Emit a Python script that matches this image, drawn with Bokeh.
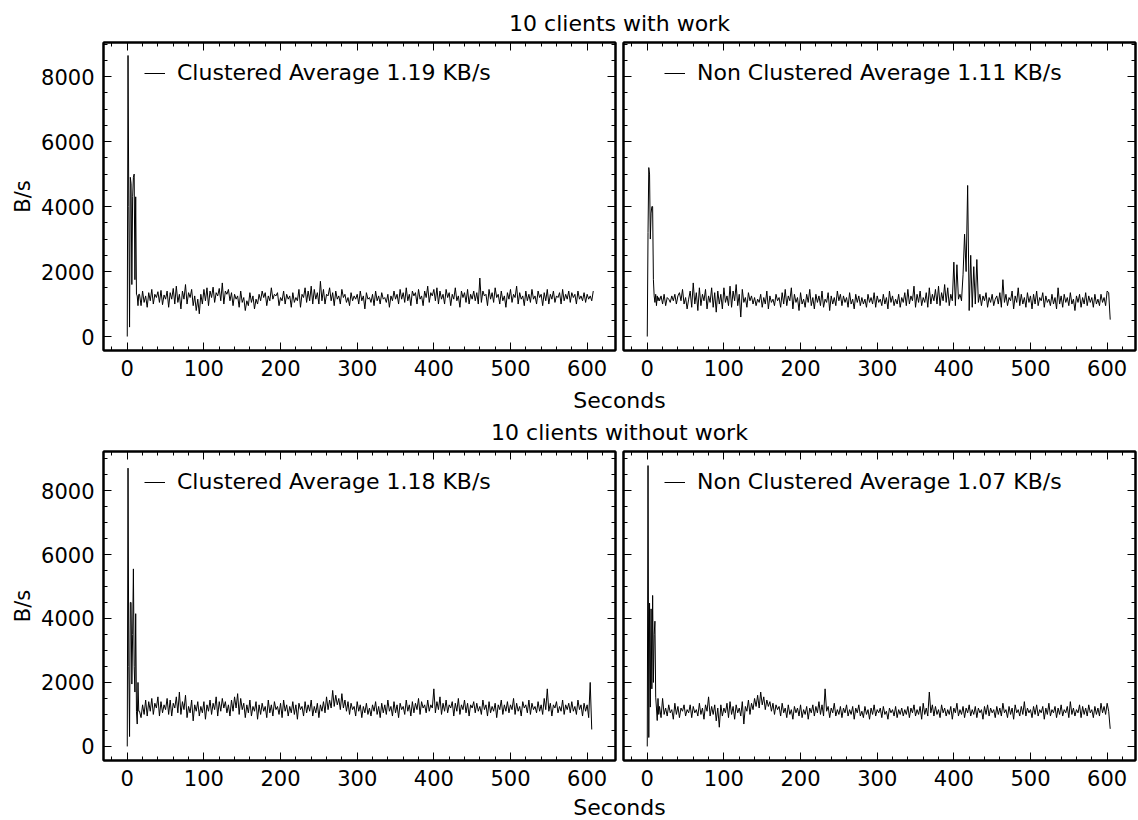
from bokeh.plotting import figure
from bokeh.models import (Range1d, LinearAxis, SingleIntervalTicker, CustomJSTickFormatter,
                          Legend, LegendItem, Label)
from bokeh.layouts import column, row
from bokeh.core.properties import value
from bokeh.embed import file_html
from bokeh.resources import INLINE

FONT = "DejaVu Sans"

# ---------------- data (B/s) ----------------
# first 16 seconds sampled every second, afterwards every 2 seconds
head_seconds = list(range(16))
step_start = 16
step = 2

tl_label = "Clustered Average 1.19 KB/s"
tl_head = [0, 8650, 4000, 290, 4900, 4700, 1600, 4300, 4900, 5000, 1750, 4300, 1300, 1250, 950, 1300]
tl_vals = [
    1300, 950, 1400, 1050, 1250, 900, 1350, 1100, 1450, 1000, 1300, 1200, 1380, 1050, 1420, 980, 1280, 1150, 1400, 900,
    1350, 1150, 1480, 1000, 1550, 1050, 1300, 850, 1400, 1150, 1600, 1000, 1350, 1200, 1450, 950, 1250, 800, 1150, 700,
    1300, 1000, 1450, 1100, 1500, 950, 1400, 1200, 1520, 1050, 1350, 1250, 1480, 1100, 1650, 1000, 1400, 1300, 1450, 1100,
    1350, 950, 1300, 1150, 1250, 900, 1400, 1050, 1200, 800, 1100, 950, 1350, 1050, 1250, 850, 1150, 1000, 1300, 1100,
    1400, 1200, 1350, 950, 1250, 1100, 1500, 1150, 1300, 1250, 1350, 950, 1200, 1100, 1400, 1000, 1300, 1150, 1250, 900,
    1350, 1050, 1200, 1100, 1450, 900, 1300, 1200, 1500, 1050, 1400, 1100, 1550, 1000, 1450, 1150, 1350, 1000, 1700, 1100,
    1450, 1000, 1300, 1250, 1500, 1100, 1350, 950, 1400, 1150, 1250, 1000, 1450, 1200, 1300, 1050, 1200, 950, 1350, 1100,
    1250, 1150, 1300, 1000, 1400, 1100, 1250, 850, 1350, 1150, 1200, 1050, 1300, 950, 1400, 1100, 1250, 1000, 1350, 1150,
    1200, 1050, 1300, 900, 1250, 1100, 1400, 1150, 1300, 1000, 1450, 1150, 1350, 1050, 1500, 1100, 1300, 950, 1400, 1250,
    1350, 1000, 1450, 1150, 1250, 950, 1400, 1200, 1550, 1050, 1350, 1250, 1450, 1100, 1500, 1000, 1400, 1150, 1300, 1000,
    1450, 1200, 1350, 950, 1300, 1150, 1500, 1100, 1250, 900, 1400, 1200, 1350, 1050, 1450, 1000, 1300, 1150, 1400, 1100,
    1350, 1000, 1800, 1050, 1400, 1250, 1300, 950, 1450, 1150, 1350, 1050, 1500, 1200, 1300, 1000, 1400, 1100, 1250, 900,
    1350, 1150, 1450, 1050, 1300, 1200, 1550, 1000, 1350, 1150, 1250, 950, 1400, 1100, 1300, 1050, 1450, 1150, 1250, 1000,
    1400, 1200, 1300, 950, 1350, 1100, 1450, 1000, 1300, 1150, 1400, 1050, 1250, 1200, 1350, 1000, 1450, 1100, 1300, 1150,
    1400, 1050, 1350, 1200, 1300, 1000, 1400, 1150, 1250, 1100, 1350, 1050, 1300, 1150, 1250, 1100, 1400,
]

tr_label = "Non Clustered Average 1.11 KB/s"
tr_head = [0, 3200, 5200, 5000, 3000, 3800, 4000, 4000, 1750, 1250, 1050, 1300, 950, 1250, 1100, 1200]
tr_vals = [
    1100, 1250, 1000, 1300, 950, 1200, 1150, 1050, 1250, 1100, 1300, 1000, 1250, 1350, 1100, 1450, 1000, 1200, 850, 1150,
    1400, 900, 1650, 1000, 1350, 800, 1500, 950, 1300, 1100, 1450, 850, 1250, 1050, 1500, 900, 1350, 750, 1400, 1000,
    1300, 850, 1500, 1050, 1250, 950, 1550, 900, 1400, 1100, 1600, 950, 1300, 600, 1450, 1050, 1200, 900, 1350, 1100,
    1250, 1000, 1200, 950, 1150, 1050, 1300, 900, 1200, 1000, 1400, 850, 1250, 1050, 1150, 950, 1300, 1100, 1200, 900,
    1350, 1000, 1450, 950, 1250, 1100, 1500, 850, 1300, 1050, 1200, 800, 1350, 1000, 1150, 900, 1300, 1050, 1450, 950,
    1200, 850, 1300, 1050, 1250, 950, 1400, 900, 1150, 1050, 1350, 800, 1250, 1000, 1200, 950, 1400, 1100, 1300, 950,
    1250, 1050, 1200, 900, 1350, 1000, 1150, 850, 1300, 1050, 1250, 950, 1200, 1000, 1150, 900, 1300, 1050, 1200, 1000,
    1350, 900, 1250, 1050, 1150, 950, 1300, 1000, 1200, 850, 1400, 1050, 1250, 950, 1150, 1000, 1300, 900, 1200, 1050,
    1350, 950, 1450, 1000, 1250, 1100, 1550, 900, 1300, 1050, 1400, 950, 1200, 1050, 1350, 900, 1500, 1000, 1300, 1100,
    1450, 1000, 1550, 950, 1350, 1100, 1600, 1050, 1500, 950, 1300, 1100, 2290, 950, 2210, 1150, 1300, 1100, 1900, 3150,
    2000, 4650, 800, 2500, 900, 2150, 1000, 2370, 1050, 1300, 950, 1250, 1100, 1350, 900, 1200, 1050, 1300, 950, 1150,
    1250, 1000, 1350, 900, 1750, 1050, 1300, 950, 1200, 1100, 1400, 850, 1250, 1050, 1500, 950, 1300, 1000, 1200, 900,
    1350, 1050, 1250, 850, 1300, 1000, 1400, 950, 1200, 1100, 1350, 900, 1250, 1050, 1150, 950, 1300, 1000, 1200, 850,
    1500, 1000, 1250, 900, 1300, 1050, 1200, 950, 1350, 1000, 1150, 800, 1250, 1050, 1300, 900, 1200, 1000, 1350, 950,
    1250, 1050, 1200, 900, 1300, 1000, 1150, 950, 1300, 1050, 1200, 950, 1400, 1350, 520,
]

bl_label = "Clustered Average 1.18 KB/s"
bl_head = [0, 8700, 2500, 310, 4500, 4500, 1950, 3500, 5550, 2500, 1700, 4150, 1100, 700, 2000, 1100]
bl_vals = [
    1100, 900, 1300, 1000, 1450, 950, 1400, 1100, 1500, 1000, 1350, 1200, 1550, 950, 1400, 1050, 1300, 1150, 1500, 1000,
    1450, 950, 1350, 1200, 1550, 1050, 1700, 1000, 1400, 1150, 1600, 900, 1250, 1050, 1450, 800, 1300, 1100, 1400, 950,
    1250, 1050, 1400, 850, 1300, 1100, 1450, 1000, 1350, 1150, 1550, 950, 1400, 1100, 1500, 1200, 1400, 1050, 1300, 950,
    1450, 1100, 1550, 1200, 1650, 1000, 1500, 1150, 1350, 900, 1300, 1050, 1450, 950, 1250, 1100, 1400, 850, 1300, 1000,
    1350, 1100, 1250, 900, 1450, 1050, 1300, 950, 1400, 1150, 1250, 1000, 1350, 900, 1450, 1100, 1300, 950, 1250, 1050,
    1400, 1000, 1300, 850, 1350, 1150, 1250, 950, 1400, 1050, 1300, 1100, 1450, 950, 1250, 1050, 1350, 900, 1300, 1100,
    1400, 1050, 1550, 1150, 1450, 1200, 1750, 1250, 1600, 1300, 1500, 1150, 1650, 1200, 1450, 1100, 1400, 1000, 1350, 1150,
    1250, 950, 1400, 1100, 1300, 900, 1250, 1050, 1350, 1000, 1200, 950, 1300, 1100, 1400, 1000, 1250, 900, 1350, 1050,
    1300, 1000, 1450, 1100, 1250, 950, 1400, 1050, 1300, 900, 1350, 1150, 1250, 1000, 1450, 1100, 1300, 950, 1400, 1050,
    1350, 1150, 1500, 1000, 1400, 1200, 1300, 1050, 1450, 1100, 1300, 1200, 1800, 1050, 1400, 1150, 1550, 1000, 1350, 1100,
    1450, 1050, 1300, 1200, 1400, 950, 1350, 1100, 1500, 1000, 1300, 1150, 1450, 1050, 1350, 950, 1300, 1200, 1400, 1050,
    1350, 1100, 1250, 1000, 1450, 1150, 1300, 950, 1400, 1050, 1250, 1100, 1350, 900, 1300, 1150, 1450, 1000, 1300, 1100,
    1400, 1050, 1300, 1150, 1500, 1000, 1350, 1100, 1250, 950, 1400, 1200, 1300, 1050, 1450, 1000, 1350, 1150, 1250, 1050,
    1400, 1100, 1300, 1000, 1500, 1150, 1800, 1100, 1350, 950, 1300, 1200, 1400, 1050, 1250, 1100, 1450, 1000, 1300, 1150,
    1350, 1050, 1400, 1100, 1250, 1000, 1450, 1150, 1300, 950, 1350, 1100, 1300, 900, 2000, 530,
]

br_label = "Non Clustered Average 1.07 KB/s"
br_head = [0, 8780, 280, 4480, 1230, 4300, 1800, 4720, 2000, 3500, 3915, 1540, 1200, 810, 1500, 1000]
br_vals = [
    1250, 900, 1500, 1000, 1200, 950, 1300, 1050, 1150, 850, 1350, 1000, 1250, 900, 1200, 1100, 1300, 950, 1150, 1050,
    1300, 900, 1250, 1050, 1150, 950, 1350, 1000, 1200, 850, 1300, 1100, 1550, 950, 1250, 1000, 1300, 800, 1200, 600,
    1300, 950, 1200, 1050, 1350, 900, 1400, 1000, 1250, 850, 1300, 1050, 1200, 950, 1400, 700, 1250, 1100, 1450, 1000,
    1350, 1150, 1500, 1250, 1600, 1200, 1700, 1300, 1550, 1150, 1450, 1250, 1400, 1100, 1350, 1000, 1300, 1150, 1250, 950,
    1350, 1050, 1200, 900, 1300, 1000, 1150, 850, 1250, 1050, 1200, 950, 1300, 900, 1150, 1000, 1250, 850, 1200, 1050,
    1300, 950, 1250, 1050, 1400, 1000, 1300, 950, 1800, 1100, 1250, 900, 1200, 1050, 1350, 950, 1150, 1000, 1250, 900,
    1200, 1050, 1300, 950, 1150, 1000, 1250, 850, 1200, 1050, 1300, 950, 1100, 900, 1250, 1000, 1150, 850, 1200, 1000,
    1300, 950, 1150, 1050, 1200, 900, 1250, 1000, 1100, 850, 1200, 1050, 1150, 950, 1250, 900, 1150, 1000, 1200, 950,
    1150, 1000, 1250, 900, 1200, 1050, 1300, 950, 1150, 1000, 1250, 850, 1350, 1000, 1200, 950, 1700, 1050, 1300, 950,
    1250, 1000, 1150, 900, 1300, 1050, 1200, 950, 1150, 1000, 1250, 850, 1200, 1050, 1350, 950, 1150, 1000, 1250, 900,
    1200, 1050, 1300, 950, 1150, 1000, 1250, 900, 1200, 1050, 1150, 850, 1250, 1000, 1300, 950, 1200, 1050, 1150, 900,
    1250, 1000, 1200, 950, 1350, 1050, 1150, 900, 1250, 1000, 1200, 850, 1300, 1050, 1150, 950, 1250, 1000, 1400, 950,
    1200, 1050, 1150, 900, 1250, 1000, 1300, 950, 1150, 1050, 1250, 850, 1200, 1000, 1350, 950, 1150, 1050, 1250, 900,
    1200, 1000, 1300, 950, 1150, 1050, 1250, 900, 1400, 1000, 1200, 950, 1150, 1050, 1300, 900, 1250, 1000, 1200, 950,
    1300, 1050, 1150, 900, 1250, 1000, 1200, 950, 1350, 1050, 1250, 1000, 1350, 1100, 550,
]

title_top = "10 clients with work"
title_bottom = "10 clients without work"
x_title = "Seconds"
y_title = "B/s"

x_major, x_minor_n = 100, 5
y_major, y_minor_n = 2000, 4
x_lim = (-31, 637)
y_lim_top = (-430, 9050)
y_lim_bottom = (-440, 9220)

TICK_SIZE = "21px"
TEXT_SIZE = "22px"


def times(head, vals):
    return head_seconds[:len(head)] + [step_start + step * i for i in range(len(vals))]


def blank_axis(ticker):
    ax = LinearAxis(ticker=ticker,
                    formatter=CustomJSTickFormatter(code="return ''"),
                    major_label_text_font_size="0px",
                    major_label_standoff=0,
                    major_tick_in=8, major_tick_out=0,
                    minor_tick_in=4, minor_tick_out=0,
                    axis_line_width=2, axis_line_color="black",
                    major_tick_line_color="black", minor_tick_line_color="black")
    return ax


def panel(head, vals, label, ylim, with_ylabels, width, height, bl, br, bt, bb):
    p = figure(width=width, height=height, x_range=Range1d(*x_lim), y_range=Range1d(*ylim),
               x_axis_type=None, y_axis_type=None, toolbar_location=None,
               output_backend="svg", min_border_left=bl, min_border_right=br,
               min_border_top=bt, min_border_bottom=bb,
               outline_line_color="black", outline_line_width=2,
               background_fill_color="white", border_fill_color="white")
    xt = lambda: SingleIntervalTicker(interval=x_major, num_minor_ticks=x_minor_n)
    yt = lambda: SingleIntervalTicker(interval=y_major, num_minor_ticks=y_minor_n)

    xb = LinearAxis(ticker=xt(), major_label_text_font=FONT, major_label_text_font_size=TICK_SIZE,
                    major_label_text_color="black", major_label_standoff=9,
                    major_tick_in=8, major_tick_out=0, minor_tick_in=4, minor_tick_out=0,
                    axis_line_width=2, axis_line_color="black",
                    major_tick_line_color="black", minor_tick_line_color="black")
    p.add_layout(xb, "below")
    if with_ylabels:
        yl = LinearAxis(ticker=yt(), major_label_text_font=FONT, major_label_text_font_size=TICK_SIZE,
                        major_label_text_color="black", major_label_standoff=9,
                        major_tick_in=8, major_tick_out=0, minor_tick_in=4, minor_tick_out=0,
                        axis_line_width=2, axis_line_color="black",
                        major_tick_line_color="black", minor_tick_line_color="black",
                        axis_label=y_title, axis_label_text_font=FONT,
                        axis_label_text_font_size=TICK_SIZE, axis_label_text_font_style="normal",
                        axis_label_text_color="black", axis_label_standoff=3)
    else:
        yl = blank_axis(yt())
    p.add_layout(yl, "left")
    p.add_layout(blank_axis(xt()), "above")
    p.add_layout(blank_axis(yt()), "right")

    r = p.line(times(head, vals), head + vals, line_color="black", line_width=1)
    frame_h = height - bt - bb
    leg = Legend(items=[LegendItem(label=value(label), renderers=[r])],
                 location=(41, frame_h - 30 - 13), padding=0, margin=0, spacing=0,
                 glyph_width=21, glyph_height=20, label_standoff=12, label_height=20,
                 label_text_font=FONT, label_text_font_size=TEXT_SIZE, label_text_color="black",
                 border_line_color=None, background_fill_alpha=0)
    p.add_layout(leg)
    return p


def strip(height, texts):
    s = figure(width=1138, height=height, x_range=Range1d(0, 1138), y_range=Range1d(0, height),
               x_axis_type=None, y_axis_type=None, toolbar_location=None, output_backend="svg",
               min_border=0, outline_line_color=None, border_fill_color="white",
               background_fill_color="white")
    for txt, yb in texts:
        s.add_layout(Label(x=619, y=yb, text=txt, text_align="center", text_baseline="alphabetic",
                           text_font=FONT, text_font_size=TEXT_SIZE, text_color="black"))
    return s


s1 = strip(40, [(title_top, 17)])
tl = panel(tl_head, tl_vals, tl_label, y_lim_top, True, 617, 346, 103, 2, 2, 36)
tr = panel(tr_head, tr_vals, tr_label, y_lim_top, False, 521, 346, 6, 3, 2, 36)
s2 = strip(63, [(x_title, 49), (title_bottom, 17)])
bl = panel(bl_head, bl_vals, bl_label, y_lim_bottom, True, 617, 347, 103, 2, 2, 36)
br = panel(br_head, br_vals, br_label, y_lim_bottom, False, 521, 347, 6, 3, 2, 36)
s3 = strip(24, [(x_title, 13)])

layout = column(s1, row(tl, tr, spacing=0), s2, row(bl, br, spacing=0), s3, spacing=0)

open("out.html", "w").write(file_html(layout, INLINE))
